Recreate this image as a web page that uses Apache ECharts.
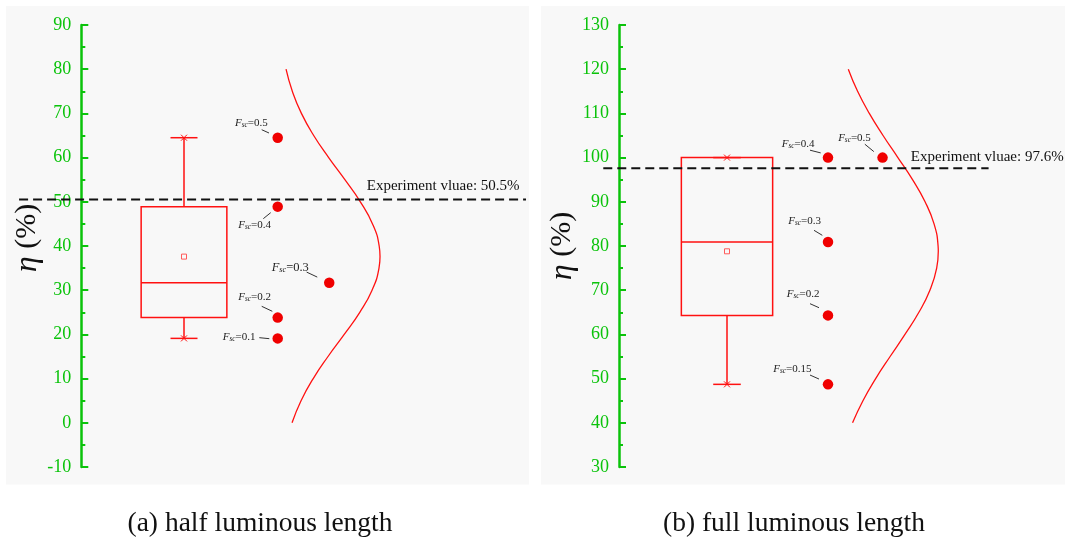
<!DOCTYPE html>
<html>
<head>
<meta charset="utf-8">
<script src="https://cdn.jsdelivr.net/npm/echarts@6/dist/echarts.min.js"></script>
<style>
  html, body { margin: 0; padding: 0; background: #ffffff; }
  #chart { width: 1065px; height: 545px; }
</style>
</head>
<body>
<div id="chart"></div>
<script>
// ---------- data: (a) half luminous length ----------
const fscHalf = ['0.1', '0.2', '0.3', '0.4', '0.5'];
const etaHalf = [19.1, 23.8, 31.7, 48.9, 64.5];
// box statistics: min, Q1, median, Q3, max, mean
const boxHalf = [19.1, 23.8, 31.7, 48.9, 64.5, 37.6];
const expHalf = 50.5;
const curveHalfEta = [80, 75, 70, 65, 60, 55, 50, 45, 40, 37.6, 35, 30, 25, 20, 15, 10, 5, 0];
const curveHalfX = [2.089, 2.156, 2.253, 2.384, 2.544, 2.717, 2.882, 3.012, 3.083, 3.092, 3.081, 3.007, 2.876, 2.710, 2.537, 2.379, 2.249, 2.153];
const ticksHalf = { min: -10, max: 90, interval: 10 };

// ---------- data: (b) full luminous length ----------
const fscFull = ['0.15', '0.2', '0.3', '0.4', '0.5'];
const etaFull = [48.7, 64.3, 80.9, 100, 100];
const boxFull = [48.7, 64.3, 80.9, 100, 100, 78.8];
const expFull = 97.6;
const curveFullEta = [120, 115, 110, 105, 100, 95, 90, 85, 80, 78.8, 75, 70, 65, 60, 55, 50, 45, 40];
const curveFullX = [2.201, 2.293, 2.409, 2.545, 2.692, 2.837, 2.961, 3.050, 3.090, 3.092, 3.076, 3.009, 2.900, 2.762, 2.615, 2.472, 2.346, 2.243];
const ticksFull = { min: 30, max: 130, interval: 10 };

const captions = ['(a) half luminous length', '(b) full luminous length'];

// ---------- styling / layout ----------
const SERIF = '"Liberation Serif", "Times New Roman", serif';
const GREEN = '#0bc30b';
const RED = '#ff1111';
const DOT = '#f00000';

const panels = [
  {
    fsc: fscHalf, eta: etaHalf, box: boxHalf, exp: expHalf,
    curveEta: curveHalfEta, curveX: curveHalfX, ticks: ticksHalf,
    grid: { left: 90.3, top: 25, width: 440.4, height: 442 }, xMax: 4.7, axisOffset: 9,
    boxSlot: 1, slots: [2, 2, 2.55, 2, 2], refSpan: [-0.76, 4.65],
    refTextSlot: 2.95, refTextDy: -13.6, boxWidth: 85.7, capWidth: 27,
    bg: { x: 6, y: 6, width: 523, height: 478.5 }, caption: { x: 260, y: 524 },
    labels: [
      { dx: -55, dy: 2.3, fs: 11, lead: [-18.4, -0.7, -8.4, 0.3] },
      { dx: -39.4, dy: -17.3, fs: 11, lead: [-16, -11.3, -5.4, -6.3] },
      { dx: -57.6, dy: -11, fs: 12.5, lead: [-22.6, -10.6, -12, -5.6] },
      { dx: -39.4, dy: 21.7, fs: 11, lead: [-14.4, 12, -7, 6] },
      { dx: -42.7, dy: -11.4, fs: 11, lead: [-16, -8, -8.7, -4.7] }
    ]
  },
  {
    fsc: fscFull, eta: etaFull, box: boxFull, exp: expFull,
    curveEta: curveFullEta, curveX: curveFullX, ticks: ticksFull,
    grid: { left: 626, top: 25, width: 434.3, height: 442 }, xMax: 4.3, axisOffset: 7,
    boxSlot: 1, slots: [2, 2, 2, 2, 2.54], refSpan: [-0.225, 3.59],
    refTextSlot: 2.82, refTextDy: -11, boxWidth: 91.3, capWidth: 27.6,
    bg: { x: 541, y: 6, width: 524, height: 478.5 }, caption: { x: 794, y: 524 },
    labels: [
      { dx: -54.7, dy: -12, fs: 11, lead: [-18, -9.3, -9, -5.3] },
      { dx: -41.3, dy: -17.7, fs: 11, lead: [-18, -11.7, -9, -7.7] },
      { dx: -39.7, dy: -17.7, fs: 11, lead: [-14, -11.7, -5.7, -6.7] },
      { dx: -46.3, dy: -10, fs: 11, lead: [-18, -7.4, -7.3, -4.7] },
      { dx: -44.4, dy: -16, fs: 11, lead: [-17.7, -13.4, -8.7, -6] }
    ]
  }
];

// box-and-whisker drawn from the statistics through the axis scales
function boxRenderer(panel) {
  return function (params, api) {
    const x = api.value(0);
    const c = v => api.coord([x, v]);
    const pMin = c(api.value(1)), pQ1 = c(api.value(2)), pMed = c(api.value(3));
    const pQ3 = c(api.value(4)), pMax = c(api.value(5)), pMean = c(api.value(6));
    const cx = pMed[0], hw = panel.boxWidth / 2, cw = panel.capWidth / 2, k = 3;
    const ls = { stroke: RED, lineWidth: 1.5, fill: null };
    const line = (x1, y1, x2, y2, st) => ({ type: 'line', shape: { x1, y1, x2, y2 }, style: st || ls });
    const cross = p => [
      line(p[0] - k, p[1] - k, p[0] + k, p[1] + k, { stroke: RED, lineWidth: 1 }),
      line(p[0] - k, p[1] + k, p[0] + k, p[1] - k, { stroke: RED, lineWidth: 1 })
    ];
    return {
      type: 'group',
      children: [
        line(cx, pQ3[1], cx, pMax[1]),
        line(cx, pQ1[1], cx, pMin[1]),
        line(cx - cw, pMax[1], cx + cw, pMax[1]),
        line(cx - cw, pMin[1], cx + cw, pMin[1]),
        { type: 'rect', shape: { x: cx - hw, y: pQ3[1], width: 2 * hw, height: pQ1[1] - pQ3[1] }, style: ls },
        line(cx - hw, pMed[1], cx + hw, pMed[1]),
        ...cross(pMax), ...cross(pMin),
        { type: 'rect', shape: { x: cx - 2.5, y: pMean[1] - 2.5, width: 5, height: 5 }, style: { stroke: '#ff5a5a', lineWidth: 1, fill: null } }
      ]
    };
  };
}

// F_sc annotations with short leader lines next to each point
function labelRenderer(panel) {
  return function (params, api) {
    const p = api.coord([api.value(0), api.value(1)]);
    const L = panel.labels[params.dataIndex];
    const fs = L.fs, sub = fs * 0.66;
    const pt = 0.8 * fs + 2.4 - 0.8 * sub;
    return {
      type: 'group',
      children: [
        { type: 'line', shape: { x1: p[0] + L.lead[0], y1: p[1] + L.lead[1], x2: p[0] + L.lead[2], y2: p[1] + L.lead[3] },
          style: { stroke: '#333', lineWidth: 1 } },
        { type: 'text', x: p[0] + L.dx, y: p[1] + L.dy - 0.8 * fs,
          style: {
            text: '{f|F}{s|sc}{n|=' + panel.fsc[params.dataIndex] + '}',
            align: 'left', verticalAlign: 'top',
            rich: {
              f: { fontFamily: SERIF, fontStyle: 'italic', fontSize: fs, lineHeight: fs, verticalAlign: 'top', fill: '#222' },
              s: { fontFamily: SERIF, fontStyle: 'italic', fontSize: sub, lineHeight: sub, padding: [pt, 0, 0, 0], verticalAlign: 'bottom', fill: '#222' },
              n: { fontFamily: SERIF, fontSize: fs, lineHeight: fs, verticalAlign: 'top', fill: '#222' }
            }
          } }
      ]
    };
  };
}

// dashed experiment line with its caption, placed through the axis scales
function refRenderer(panel) {
  return function (params, api) {
    const v = api.value(0);
    const a = api.coord([panel.refSpan[0], v]);
    const b = api.coord([panel.refSpan[1], v]);
    const t = api.coord([panel.refTextSlot, v]);
    return {
      type: 'group',
      children: [
        { type: 'line', shape: { x1: a[0], y1: a[1], x2: b[0], y2: b[1] },
          style: { stroke: '#111', lineWidth: 2, lineDash: [9, 5] } },
        { type: 'text', x: t[0], y: t[1] + panel.refTextDy,
          style: { text: 'Experiment vluae: ' + v + '%', fontFamily: SERIF, fontSize: 15, fill: '#111', align: 'left', verticalAlign: 'middle' } }
      ]
    };
  };
}

const grids = [], xAxes = [], yAxes = [], series = [], graphics = [];

panels.forEach((panel, i) => {
  graphics.push({ type: 'rect', z: -10, shape: panel.bg, style: { fill: '#f8f8f8' } });
  graphics.push({ type: 'text', x: panel.caption.x, y: panel.caption.y,
    style: { text: captions[i], fontFamily: SERIF, fontSize: 27.5, fill: '#111', align: 'center', verticalAlign: 'middle' } });

  grids.push(panel.grid);
  xAxes.push({ type: 'value', gridIndex: i, min: 0, max: panel.xMax, show: false });
  yAxes.push({
    type: 'value', gridIndex: i, min: panel.ticks.min, max: panel.ticks.max, interval: panel.ticks.interval,
    offset: panel.axisOffset,
    axisLine: { show: true, onZero: false, lineStyle: { color: GREEN, width: 2.5 } },
    axisTick: { show: true, inside: true, length: 7, lineStyle: { color: GREEN, width: 2 } },
    minorTick: { show: true, splitNumber: 2, length: 4, lineStyle: { color: GREEN, width: 2 } },
    axisLabel: { color: GREEN, fontSize: 18, fontFamily: SERIF, margin: 10 },
    splitLine: { show: false },
    name: '{i|η} (%)', nameLocation: 'middle', nameRotate: 90, nameGap: 34,
    nameTextStyle: {
      color: '#111', fontSize: 30, fontFamily: SERIF, padding: i === 0 ? [0, 0, 0, 16] : [0, 0, 0, 0],
      rich: { i: { fontStyle: 'italic', fontSize: 32, fontFamily: SERIF, color: '#111' } }
    }
  });

  // fitted distribution curve
  series.push({
    type: 'line', xAxisIndex: i, yAxisIndex: i, silent: true, smooth: true, showSymbol: false, symbol: 'none',
    data: panel.curveX.map((x, k) => [x, panel.curveEta[k]]),
    lineStyle: { color: RED, width: 1.3 }, z: 2
  });
  // experiment reference line and caption
  series.push({
    type: 'custom', xAxisIndex: i, yAxisIndex: i, silent: true, clip: false,
    renderItem: refRenderer(panel), encode: { y: 0 }, data: [[panel.exp]], z: 4
  });
  // box chart
  series.push({
    type: 'custom', xAxisIndex: i, yAxisIndex: i, silent: true,
    renderItem: boxRenderer(panel), encode: { x: 0, y: [1, 2, 3, 4, 5, 6] },
    data: [[panel.boxSlot].concat(panel.box)], z: 3
  });
  // individual results
  series.push({
    type: 'scatter', xAxisIndex: i, yAxisIndex: i, silent: true, symbolSize: 10.5,
    itemStyle: { color: DOT, opacity: 1 },
    data: panel.eta.map((v, k) => [panel.slots[k], v]), z: 5
  });
  series.push({
    type: 'custom', xAxisIndex: i, yAxisIndex: i, silent: true, clip: false,
    renderItem: labelRenderer(panel),
    data: panel.eta.map((v, k) => [panel.slots[k], v]), z: 5
  });
});

const chart = echarts.init(document.getElementById('chart'), null, { renderer: 'canvas' });
chart.setOption({
  animation: false,
  backgroundColor: '#ffffff',
  grid: grids,
  xAxis: xAxes,
  yAxis: yAxes,
  graphic: graphics,
  series: series
});
</script>
</body>
</html>
